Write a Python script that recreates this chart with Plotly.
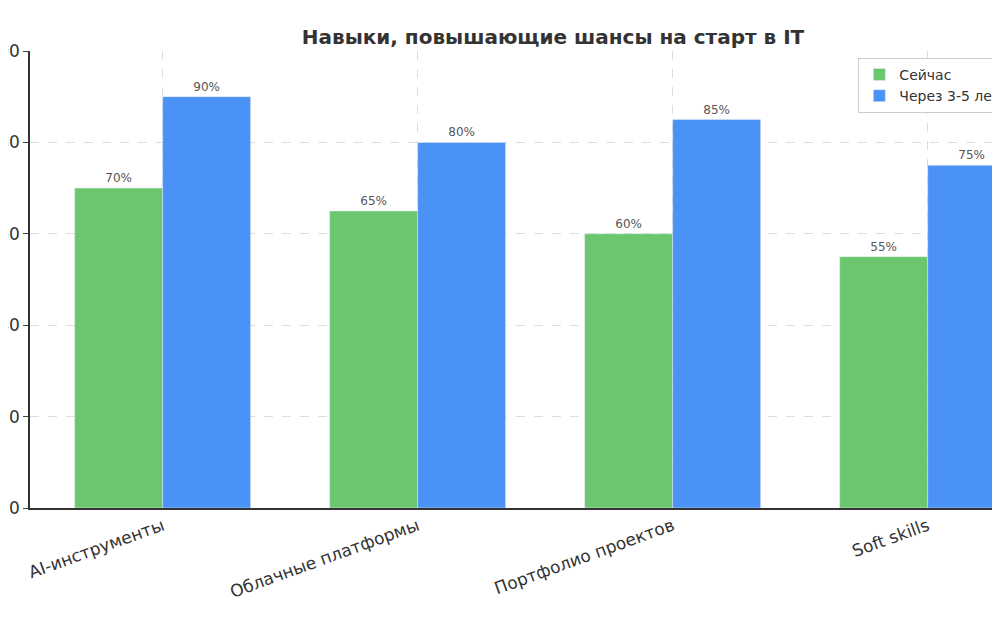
import plotly.graph_objects as go

categories = ["AI-инструменты", "Облачные платформы", "Портфолио проектов", "Soft skills"]
now_values = [70, 65, 60, 55]
future_values = [90, 80, 85, 75]
y_ticks = [0, 20, 40, 60, 80, 100]

fig = go.Figure()
fig.add_bar(x=categories, y=now_values, name="Сейчас", marker_color="#6cc66f",
            text=[f"{v}%" for v in now_values], textposition="outside",
            textfont=dict(size=12, color="#555"), cliponaxis=False)
fig.add_bar(x=categories, y=future_values, name="Через 3-5 лет", marker_color="#4b92f7",
            text=[f"{v}%" for v in future_values], textposition="outside",
            textfont=dict(size=12, color="#555"), cliponaxis=False)

fig.update_layout(
    width=1000, height=625,
    margin=dict(l=22, r=0, t=43, b=125, autoexpand=False),
    paper_bgcolor="white", plot_bgcolor="white",
    barmode="group", bargap=0.31, bargroupgap=0,
    title=dict(text="<b>Навыки, повышающие шансы на старт в IT</b>", x=0.545, y=0.965,
               font=dict(size=20, color="#333", family="DejaVu Sans")),
    font=dict(family="DejaVu Sans", color="#333"),
    legend=dict(x=0.847, y=0.985, xanchor="left", yanchor="top", bgcolor="white",
                bordercolor="#ccc", borderwidth=1, font=dict(size=14)),
    showlegend=True,
)
fig.update_xaxes(range=[-0.52, 3.315], tickangle=-20, tickfont=dict(size=17),
                 automargin=False,
                 showline=True, linecolor="#333", linewidth=1.5, showgrid=True,
                 gridcolor="#ddd", griddash="dash")
fig.update_yaxes(range=[0, 100], tickvals=y_ticks, tickfont=dict(size=17),
                 automargin=False,
                 showline=True, linecolor="#333", linewidth=1.5, ticks="outside",
                 gridcolor="#ddd", griddash="dash", zeroline=False)

fig.write_html("out.html")
